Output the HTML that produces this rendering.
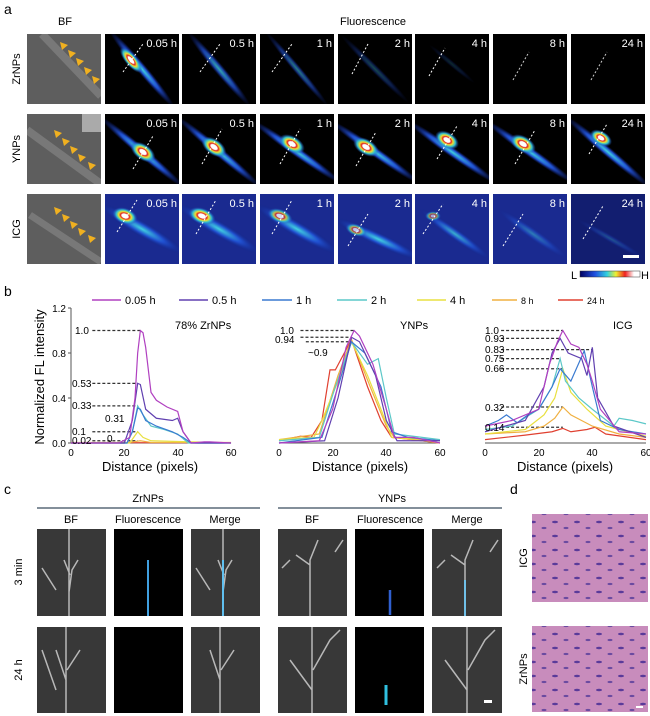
<!DOCTYPE html><html><head><style>body{margin:0;background:#fff}svg{display:block;font-family:"Liberation Sans",sans-serif}</style></head><body>
<svg width="650" height="716" viewBox="0 0 650 716" xmlns="http://www.w3.org/2000/svg">
<defs>
<clipPath id="tc"><rect width="74" height="70"/></clipPath>
<radialGradient id="hot"><stop offset="0" stop-color="#fff"/><stop offset="0.25" stop-color="#fff"/><stop offset="0.35" stop-color="#e02020"/><stop offset="0.5" stop-color="#f0e030"/><stop offset="0.7" stop-color="#30c0d0"/><stop offset="1" stop-color="#2040c0" stop-opacity="0"/></radialGradient>
<radialGradient id="str"><stop offset="0" stop-color="#40d0e0"/><stop offset="0.5" stop-color="#2050d0"/><stop offset="1" stop-color="#102080" stop-opacity="0"/></radialGradient>
<linearGradient id="cb"><stop offset="0" stop-color="#000060"/><stop offset="0.25" stop-color="#2050e0"/><stop offset="0.45" stop-color="#30d0e0"/><stop offset="0.6" stop-color="#f0f030"/><stop offset="0.75" stop-color="#f02020"/><stop offset="0.9" stop-color="#fff"/></linearGradient>
<pattern id="he" width="22" height="14" patternUnits="userSpaceOnUse"><rect width="22" height="14" fill="#c88cbc"/><ellipse cx="5" cy="4" rx="3" ry="1.2" fill="#5a3a9a"/><ellipse cx="16" cy="10" rx="2.5" ry="1.1" fill="#6a4aa0"/></pattern>
<g id="arr" fill="#f0b020"><polygon points="0,0 8,3 2,8"/></g>
</defs>
<g font-size="14"><text x="4" y="14">a</text><text x="4" y="296">b</text><text x="4" y="494">c</text><text x="510" y="494">d</text></g>
<g font-size="11" text-anchor="middle"><text x="65" y="25">BF</text><text x="373" y="25">Fluorescence</text></g>
<g font-size="11" text-anchor="middle"><text transform="translate(20,69) rotate(-90)">ZrNPs</text><text transform="translate(20,149) rotate(-90)">YNPs</text><text transform="translate(20,229) rotate(-90)">ICG</text></g>
<!-- BF tiles -->
<g transform="translate(27,34)" clip-path="url(#tc)"><rect width="74" height="70" fill="#5e5e5e"/><path d="M15 0 L74 62" stroke="#8a8a8a" stroke-width="8" opacity=".6"/></g>
<g transform="translate(27,114)" clip-path="url(#tc)"><rect width="74" height="70" fill="#5e5e5e"/><path d="M0 16 L74 70" stroke="#8a8a8a" stroke-width="8" opacity=".6"/><rect x="55" y="0" width="19" height="18" fill="#aaa"/></g>
<g transform="translate(27,194)" clip-path="url(#tc)"><rect width="74" height="70" fill="#5e5e5e"/><path d="M3 21 L74 68" stroke="#8a8a8a" stroke-width="7" opacity=".6"/></g>
<use href="#arr" x="60" y="42"/><use href="#arr" x="68" y="50"/><use href="#arr" x="76" y="58"/><use href="#arr" x="84" y="67"/><use href="#arr" x="92" y="76"/>
<use href="#arr" x="54" y="130"/><use href="#arr" x="62" y="138"/><use href="#arr" x="70" y="146"/><use href="#arr" x="78" y="154"/><use href="#arr" x="88" y="162"/>
<use href="#arr" x="54" y="207"/><use href="#arr" x="62" y="214"/><use href="#arr" x="70" y="221"/><use href="#arr" x="78" y="228"/><use href="#arr" x="88" y="235"/>
<!-- fluorescence tiles -->
<g font-size="11" fill="#fff" text-anchor="end">
<g transform="translate(105,34)" clip-path="url(#tc)"><rect width="74" height="70" fill="#000"/><ellipse cx="37" cy="35" rx="50" ry="5" transform="rotate(50 37 35)" fill="url(#str)"/><ellipse cx="26" cy="26" rx="16" ry="6" transform="rotate(50 26 26)" fill="url(#hot)"/><path d="M18 38 L38 10" stroke="#fff" stroke-dasharray="2 2"/><text x="72" y="13">0.05 h</text></g>
<g transform="translate(182,34)" clip-path="url(#tc)"><rect width="74" height="70" fill="#000"/><ellipse cx="37" cy="35" rx="48" ry="5" transform="rotate(50 37 35)" fill="url(#str)" opacity=".8"/><path d="M18 38 L38 10" stroke="#fff" stroke-dasharray="2 2"/><text x="72" y="13">0.5 h</text></g>
<g transform="translate(260,34)" clip-path="url(#tc)"><rect width="74" height="70" fill="#000"/><ellipse cx="37" cy="35" rx="48" ry="4" transform="rotate(50 37 35)" fill="url(#str)" opacity=".6"/><path d="M12 38 L32 10" stroke="#fff" stroke-dasharray="2 2"/><text x="72" y="13">1 h</text></g>
<g transform="translate(338,34)" clip-path="url(#tc)"><rect width="74" height="70" fill="#000"/><ellipse cx="37" cy="35" rx="48" ry="4" transform="rotate(45 37 35)" fill="url(#str)" opacity=".35"/><path d="M14 40 L30 10" stroke="#fff" stroke-dasharray="2 2"/><text x="72" y="13">2 h</text></g>
<g transform="translate(415,34)" clip-path="url(#tc)"><rect width="74" height="70" fill="#000"/><ellipse cx="37" cy="30" rx="30" ry="3" transform="rotate(40 37 30)" fill="url(#str)" opacity=".2"/><path d="M14 42 L30 14" stroke="#fff" stroke-dasharray="2 2"/><text x="72" y="13">4 h</text></g>
<g transform="translate(493,34)" clip-path="url(#tc)"><rect width="74" height="70" fill="#000"/><path d="M20 46 L36 18" stroke="#fff" stroke-dasharray="2 2" opacity=".8"/><text x="72" y="13">8 h</text></g>
<g transform="translate(571,34)" clip-path="url(#tc)"><rect width="74" height="70" fill="#000"/><path d="M20 46 L36 18" stroke="#fff" stroke-dasharray="2 2" opacity=".8"/><text x="72" y="13">24 h</text></g>
<g transform="translate(105,114)" clip-path="url(#tc)"><rect width="74" height="70" fill="#000"/><ellipse cx="37" cy="38" rx="55" ry="5" transform="rotate(40 37 38)" fill="url(#str)"/><ellipse cx="38" cy="38" rx="14" ry="8" transform="rotate(35 38 38)" fill="url(#hot)"/><path d="M28 55 L48 22" stroke="#fff" stroke-dasharray="2 2"/><text x="72" y="13">0.05 h</text></g>
<g transform="translate(182,114)" clip-path="url(#tc)"><rect width="74" height="70" fill="#000"/><ellipse cx="37" cy="38" rx="55" ry="5" transform="rotate(40 37 38)" fill="url(#str)"/><ellipse cx="32" cy="33" rx="14" ry="8" transform="rotate(35 32 33)" fill="url(#hot)"/><path d="M20 50 L40 15" stroke="#fff" stroke-dasharray="2 2"/><text x="72" y="13">0.5 h</text></g>
<g transform="translate(260,114)" clip-path="url(#tc)"><rect width="74" height="70" fill="#000"/><ellipse cx="37" cy="38" rx="55" ry="5" transform="rotate(35 37 38)" fill="url(#str)"/><ellipse cx="32" cy="30" rx="14" ry="8" transform="rotate(30 32 30)" fill="url(#hot)"/><path d="M20 50 L40 15" stroke="#fff" stroke-dasharray="2 2"/><text x="72" y="13">1 h</text></g>
<g transform="translate(338,114)" clip-path="url(#tc)"><rect width="74" height="70" fill="#000"/><ellipse cx="37" cy="38" rx="55" ry="5" transform="rotate(35 37 38)" fill="url(#str)"/><ellipse cx="28" cy="33" rx="14" ry="8" transform="rotate(30 28 33)" fill="url(#hot)"/><path d="M18 52 L38 18" stroke="#fff" stroke-dasharray="2 2"/><text x="72" y="13">2 h</text></g>
<g transform="translate(415,114)" clip-path="url(#tc)"><rect width="74" height="70" fill="#000"/><ellipse cx="37" cy="38" rx="55" ry="5" transform="rotate(35 37 38)" fill="url(#str)"/><ellipse cx="32" cy="26" rx="13" ry="8" transform="rotate(30 32 26)" fill="url(#hot)"/><path d="M22 45 L42 12" stroke="#fff" stroke-dasharray="2 2"/><text x="72" y="13">4 h</text></g>
<g transform="translate(493,114)" clip-path="url(#tc)"><rect width="74" height="70" fill="#000"/><ellipse cx="37" cy="38" rx="55" ry="5" transform="rotate(35 37 38)" fill="url(#str)"/><ellipse cx="30" cy="30" rx="14" ry="8" transform="rotate(30 30 30)" fill="url(#hot)"/><path d="M22 50 L42 16" stroke="#fff" stroke-dasharray="2 2"/><text x="72" y="13">8 h</text></g>
<g transform="translate(571,114)" clip-path="url(#tc)"><rect width="74" height="70" fill="#000"/><ellipse cx="37" cy="38" rx="55" ry="5" transform="rotate(40 37 38)" fill="url(#str)"/><ellipse cx="30" cy="24" rx="12" ry="7" transform="rotate(30 30 24)" fill="url(#hot)"/><path d="M18 40 L36 10" stroke="#fff" stroke-dasharray="2 2"/><text x="72" y="13">24 h</text></g>
<g transform="translate(105,194)" clip-path="url(#tc)"><rect width="74" height="70" fill="#1a2a90"/><ellipse cx="37" cy="35" rx="50" ry="8" transform="rotate(30 37 35)" fill="url(#str)"/><ellipse cx="20" cy="22" rx="13" ry="8" transform="rotate(20 20 22)" fill="url(#hot)"/><path d="M12 38 L32 6" stroke="#fff" stroke-dasharray="2 2"/><text x="72" y="13">0.05 h</text></g>
<g transform="translate(182,194)" clip-path="url(#tc)"><rect width="74" height="70" fill="#1a2a90"/><ellipse cx="37" cy="35" rx="50" ry="8" transform="rotate(30 37 35)" fill="url(#str)"/><ellipse cx="20" cy="22" rx="14" ry="8" transform="rotate(20 20 22)" fill="url(#hot)"/><path d="M14 40 L34 6" stroke="#fff" stroke-dasharray="2 2"/><text x="72" y="13">0.5 h</text></g>
<g transform="translate(260,194)" clip-path="url(#tc)"><rect width="74" height="70" fill="#1a2a90"/><ellipse cx="37" cy="35" rx="50" ry="8" transform="rotate(30 37 35)" fill="url(#str)"/><ellipse cx="20" cy="22" rx="13" ry="7" transform="rotate(20 20 22)" fill="url(#hot)" opacity=".8"/><path d="M12 40 L32 6" stroke="#fff" stroke-dasharray="2 2"/><text x="72" y="13">1 h</text></g>
<g transform="translate(338,194)" clip-path="url(#tc)"><rect width="74" height="70" fill="#1a2a90"/><ellipse cx="40" cy="45" rx="50" ry="7" transform="rotate(25 40 45)" fill="url(#str)"/><ellipse cx="18" cy="36" rx="11" ry="6" transform="rotate(20 18 36)" fill="url(#hot)" opacity=".7"/><path d="M10 52 L30 20" stroke="#fff" stroke-dasharray="2 2"/><text x="72" y="13">2 h</text></g>
<g transform="translate(415,194)" clip-path="url(#tc)"><rect width="74" height="70" fill="#1a2a90"/><ellipse cx="40" cy="40" rx="45" ry="6" transform="rotate(35 40 40)" fill="url(#str)" opacity=".8"/><ellipse cx="18" cy="22" rx="8" ry="5" fill="url(#hot)" opacity=".6"/><path d="M8 40 L28 10" stroke="#fff" stroke-dasharray="2 2"/><text x="72" y="13">4 h</text></g>
<g transform="translate(493,194)" clip-path="url(#tc)"><rect width="74" height="70" fill="#1a2a90"/><ellipse cx="40" cy="40" rx="45" ry="6" transform="rotate(35 40 40)" fill="url(#str)" opacity=".5"/><path d="M10 52 L30 20" stroke="#fff" stroke-dasharray="2 2"/><text x="72" y="13">8 h</text></g>
<g transform="translate(571,194)" clip-path="url(#tc)"><rect width="74" height="70" fill="#121e70"/><ellipse cx="40" cy="45" rx="40" ry="4" transform="rotate(30 40 45)" fill="url(#str)" opacity=".3"/><path d="M12 45 L32 12" stroke="#fff" stroke-dasharray="2 2"/><rect x="52" y="61" width="16" height="3" fill="#fff"/><text x="72" y="13">24 h</text></g>
</g>
<rect x="580" y="271" width="60" height="6" fill="url(#cb)" stroke="#333" stroke-width=".5"/>
<text x="571" y="279" font-size="11">L</text><text x="641" y="279" font-size="11">H</text>
<g font-size="11">
<line x1="92" y1="300" x2="121" y2="300" stroke="#b040c0" stroke-width="1.5"/><text x="125" y="304">0.05 h</text>
<line x1="179" y1="300" x2="208" y2="300" stroke="#6040b0" stroke-width="1.5"/><text x="212" y="304">0.5 h</text>
<line x1="262" y1="300" x2="292" y2="300" stroke="#3a7ad0" stroke-width="1.5"/><text x="296" y="304">1 h</text>
<line x1="337" y1="300" x2="367" y2="300" stroke="#5cc8c8" stroke-width="1.5"/><text x="371" y="304">2 h</text>
<line x1="417" y1="300" x2="446" y2="300" stroke="#e8e040" stroke-width="1.5"/><text x="450" y="304">4 h</text>
<line x1="492" y1="300" x2="517" y2="300" stroke="#f0b040" stroke-width="1.5"/><text x="521" y="304" font-size="9">8 h</text>
<line x1="558" y1="300" x2="583" y2="300" stroke="#e04030" stroke-width="1.5"/><text x="587" y="304" font-size="9">24 h</text>
</g>
<g stroke="#555" fill="none"><path d="M71 308 L71 443 L231 443"/><path d="M279 443 L440 443"/><path d="M485 443 L646 443"/></g>
<g stroke="#555"><line x1="68" y1="308" x2="71" y2="308"/><line x1="68" y1="353" x2="71" y2="353"/><line x1="68" y1="398" x2="71" y2="398"/><line x1="68" y1="443" x2="71" y2="443"/></g>
<g font-size="10" text-anchor="end"><text x="66" y="312">1.2</text><text x="66" y="357">0.8</text><text x="66" y="402">0.4</text><text x="66" y="447">0.0</text></g>
<g font-size="10" text-anchor="middle">
<text x="71" y="456">0</text><text x="124" y="456">20</text><text x="178" y="456">40</text><text x="231" y="456">60</text>
<text x="279" y="456">0</text><text x="333" y="456">20</text><text x="386" y="456">40</text><text x="440" y="456">60</text>
<text x="485" y="456">0</text><text x="539" y="456">20</text><text x="592" y="456">40</text><text x="646" y="456">60</text></g>
<g font-size="13" text-anchor="middle"><text x="150" y="471">Distance (pixels)</text><text x="360" y="471">Distance (pixels)</text><text x="565" y="471">Distance (pixels)</text>
<text transform="translate(44,377) rotate(-90)">Normalized FL intensity</text></g>
<g font-size="11"><text x="175" y="329">78% ZrNPs</text><text x="400" y="329">YNPs</text><text x="613" y="329">ICG</text></g>
<g transform="translate(71,443) scale(2.667,-112.5)" fill="none" stroke-width="1.2">
<g stroke="#333" stroke-dasharray="3 2"><polyline vector-effect="non-scaling-stroke" points="8,1 26,1"/><polyline vector-effect="non-scaling-stroke" points="8,0.53 25,0.53"/><polyline vector-effect="non-scaling-stroke" points="8,0.33 25,0.33"/><polyline vector-effect="non-scaling-stroke" points="8,0.1 25,0.1"/><polyline vector-effect="non-scaling-stroke" points="8,0.02 25,0.02"/></g>
<polyline vector-effect="non-scaling-stroke" stroke="#e04030" points="0,0.003 60,0.003"/>
<polyline vector-effect="non-scaling-stroke" stroke="#f0b040" points="0,0.005 22,0.005 26,0.02 30,0.005 60,0.005"/>
<polyline vector-effect="non-scaling-stroke" stroke="#e8e040" points="0,0 22,0 25,0.1 27,0.05 30,0.02 60,0"/>
<polyline vector-effect="non-scaling-stroke" stroke="#5cc8c8" points="0,0 21,0 23,0.1 25,0.33 27,0.25 30,0.15 35,0.12 40,0.08 44,0 60,0"/>
<polyline vector-effect="non-scaling-stroke" stroke="#3a7ad0" points="0,0 21,0 23,0.1 25,0.31 26,0.3 28,0.2 32,0.15 38,0.1 42,0.05 45,0 60,0"/>
<polyline vector-effect="non-scaling-stroke" stroke="#6040b0" points="0,0 20,0 23,0.2 25,0.53 26,0.52 28,0.3 32,0.22 38,0.2 40,0.22 42,0.1 45,0 60,0"/>
<polyline vector-effect="non-scaling-stroke" stroke="#b040c0" points="0,0 18,0 22,0.05 24,0.4 25,0.8 26,1 27,0.98 28,0.85 30,0.45 32,0.38 36,0.32 40,0.28 42,0.1 45,0 50,0.01 52,0.01 60,0"/>
</g>
<g font-size="10"><text x="75" y="334">1.0</text><text x="72" y="387">0.53</text><text x="72" y="409">0.33</text><text x="105" y="422">0.31</text><text x="72" y="435">0.1</text><text x="72" y="444">0.02</text><text x="107" y="442">0</text></g>
<g transform="translate(279,443) scale(2.683,-112.5)" fill="none" stroke-width="1.2">
<g stroke="#333" stroke-dasharray="3 2"><polyline vector-effect="non-scaling-stroke" points="8,1 28,1"/><polyline vector-effect="non-scaling-stroke" points="8,0.94 27,0.94"/><polyline vector-effect="non-scaling-stroke" points="10,0.9 27,0.9"/></g>
<polyline vector-effect="non-scaling-stroke" stroke="#e04030" points="0,0.02 8,0.06 12,0.05 16,0.2 19,0.65 21,0.65 27,0.92 33,0.5 38,0.2 42,0.05 50,0.03 60,0"/>
<polyline vector-effect="non-scaling-stroke" stroke="#f0b040" points="0,0.03 15,0.08 22,0.6 27,0.92 34,0.5 40,0.15 43,0.05 60,0"/>
<polyline vector-effect="non-scaling-stroke" stroke="#e8e040" points="0,0.03 13,0.05 16,0.2 22,0.55 27,0.9 33,0.6 38,0.3 42,0.05 60,0.02"/>
<polyline vector-effect="non-scaling-stroke" stroke="#5cc8c8" points="0,0.02 15,0.05 21,0.5 27,0.9 33,0.7 37,0.75 40,0.4 43,0.08 50,0.06 60,0.03"/>
<polyline vector-effect="non-scaling-stroke" stroke="#3a7ad0" points="0,0 16,0.05 22,0.5 27,0.9 32,0.8 38,0.5 42,0.1 48,0.05 60,0.02"/>
<polyline vector-effect="non-scaling-stroke" stroke="#6040b0" points="0,0 17,0.02 22,0.4 27,0.94 30,0.9 36,0.6 40,0.2 44,0.02 60,0.02"/>
<polyline vector-effect="non-scaling-stroke" stroke="#b040c0" points="0,0 15,0.02 20,0.3 25,0.85 28,1 30,0.95 35,0.7 40,0.3 43,0.05 50,0.05 60,0"/>
</g>
<g font-size="10"><text x="280" y="334">1.0</text><text x="275" y="343">0.94</text><text x="308" y="356">~0.9</text></g>
<g transform="translate(485,443) scale(2.683,-112.5)" fill="none" stroke-width="1.2">
<g stroke="#333" stroke-dasharray="3 2"><polyline vector-effect="non-scaling-stroke" points="6,1 29,1"/><polyline vector-effect="non-scaling-stroke" points="6,0.93 28,0.93"/><polyline vector-effect="non-scaling-stroke" points="6,0.83 40,0.83"/><polyline vector-effect="non-scaling-stroke" points="6,0.75 28,0.75"/><polyline vector-effect="non-scaling-stroke" points="6,0.66 29,0.66"/><polyline vector-effect="non-scaling-stroke" points="6,0.32 29,0.32"/><polyline vector-effect="non-scaling-stroke" points="6,0.14 29,0.14"/></g>
<polyline vector-effect="non-scaling-stroke" stroke="#e04030" points="0,0.03 15,0.07 25,0.1 29,0.13 32,0.1 38,0.12 41,0.14 45,0.08 60,0.03"/>
<polyline vector-effect="non-scaling-stroke" stroke="#f0b040" points="0,0.08 15,0.1 22,0.15 26,0.22 29,0.32 32,0.25 40,0.15 50,0.08 60,0.05"/>
<polyline vector-effect="non-scaling-stroke" stroke="#e8e040" points="0,0.08 15,0.12 22,0.25 26,0.4 29,0.66 32,0.45 38,0.3 45,0.15 60,0.06"/>
<polyline vector-effect="non-scaling-stroke" stroke="#5cc8c8" points="0,0.12 10,0.15 20,0.3 25,0.5 28,0.75 30,0.55 35,0.4 40,0.3 48,0.15 50,0.22 55,0.2 60,0.17"/>
<polyline vector-effect="non-scaling-stroke" stroke="#3a7ad0" points="0,0.15 5,0.2 8,0.25 12,0.18 16,0.25 20,0.3 25,0.5 28,0.66 32,0.55 37,0.82 40,0.5 43,0.2 50,0.12 60,0.08"/>
<polyline vector-effect="non-scaling-stroke" stroke="#6040b0" points="0,0.1 15,0.2 22,0.5 25,0.8 28,0.93 31,0.8 36,0.75 38,0.6 40,0.85 42,0.4 48,0.15 60,0.05"/>
<polyline vector-effect="non-scaling-stroke" stroke="#b040c0" points="0,0.15 10,0.2 20,0.3 24,0.7 27,0.9 29,1 32,0.88 35,0.85 38,0.7 40,0.55 43,0.3 50,0.1 60,0.08"/>
</g>
<g font-size="10"><text x="485" y="334">1.0</text><text x="485" y="342">0.93</text><text x="485" y="353">0.83</text><text x="485" y="362">0.75</text><text x="485" y="372">0.66</text><text x="485" y="411">0.32</text><text x="485" y="431">0.14</text></g>
<g font-size="11" text-anchor="middle"><text x="148" y="502">ZrNPs</text><text x="392" y="502">YNPs</text>
<text x="71" y="523">BF</text><text x="148" y="523">Fluorescence</text><text x="225" y="523">Merge</text>
<text x="312" y="523">BF</text><text x="390" y="523">Fluorescence</text><text x="467" y="523">Merge</text>
<text transform="translate(22,572) rotate(-90)">3 min</text><text transform="translate(22,670) rotate(-90)">24 h</text>
<text transform="translate(527,558) rotate(-90)">ICG</text><text transform="translate(527,669) rotate(-90)">ZrNPs</text></g>
<line x1="37" y1="508" x2="260" y2="508" stroke="#5a6a78" stroke-width="1.5"/><line x1="278" y1="508" x2="502" y2="508" stroke="#5a6a78" stroke-width="1.5"/>
<g fill="#383838">
<rect x="37" y="529" width="69" height="87"/><rect x="191" y="529" width="69" height="87"/><rect x="278" y="529" width="69" height="87"/><rect x="432" y="529" width="70" height="87"/>
<rect x="37" y="627" width="69" height="86"/><rect x="191" y="627" width="69" height="86"/><rect x="278" y="627" width="69" height="86"/><rect x="432" y="627" width="70" height="86"/></g>
<g fill="#000"><rect x="114" y="529" width="69" height="87"/><rect x="355" y="529" width="69" height="87"/><rect x="114" y="627" width="69" height="86"/><rect x="355" y="627" width="69" height="86"/></g>
<g stroke="#b8b8b8" stroke-width="1.5" fill="none">
<path d="M69 529 V616 M69 592 L72 570 L78 560 M70 575 L64 560 M42 568 L56 590"/>
<path d="M223 529 V616 M223 592 L226 570 L232 560 M224 575 L218 560 M196 568 L210 590"/>
<path d="M310 616 V560 L318 540 M310 565 L296 555 M282 568 L290 560 M343 540 L335 552"/>
<path d="M465 616 V560 L473 540 M465 565 L451 555 M437 568 L445 560 M498 540 L490 552"/>
<path d="M66 713 V627 M66 680 L56 650 M67 670 L80 650 M42 650 L56 690"/>
<path d="M220 713 V627 M220 680 L210 650 M221 670 L234 650"/>
<path d="M312 713 V627 M312 690 L290 660 M313 670 L330 640 L340 630"/>
<path d="M467 713 V627 M467 690 L445 660 M468 670 L485 640 L495 630"/>
</g>
<path d="M148 560 V616" stroke="#40a0e0" stroke-width="2"/><path d="M223 560 V616" stroke="#60c0f0" stroke-width="2"/>
<path d="M390 590 V615" stroke="#3060d0" stroke-width="2.5"/><path d="M465 580 V616" stroke="#70c0e8" stroke-width="2"/>
<path d="M386 685 V705" stroke="#30c0e0" stroke-width="3"/><rect x="484" y="700" width="8" height="3" fill="#fff"/>
<rect x="532" y="514" width="116" height="88" fill="url(#he)"/><rect x="532" y="626" width="116" height="86" fill="url(#he)"/>
<rect x="636" y="706" width="7" height="2" fill="#fff"/>
</svg>
</body></html>
